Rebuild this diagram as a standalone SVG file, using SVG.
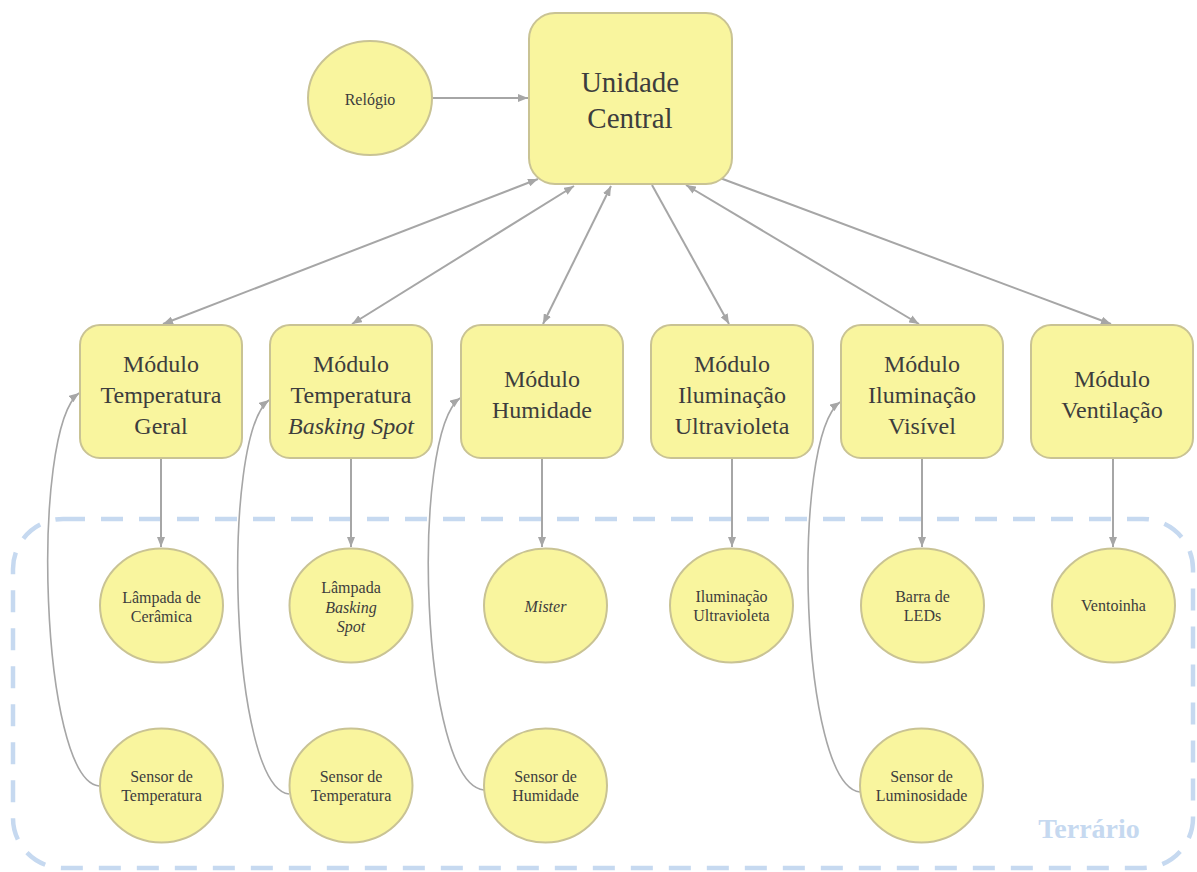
<svg xmlns="http://www.w3.org/2000/svg" width="1197" height="872" viewBox="0 0 1197 872">
<style>
.box{fill:#f9f59e;stroke:#c9c394;stroke-width:2}
.t{fill:#3d3d3d;text-anchor:middle}
.big{font-size:29px}
.mid{font-size:24px}
.sm{font-size:16px}
.it{font-style:italic}
.ln{fill:none;stroke:#a6a6a6;stroke-width:2}
.cv{fill:none;stroke:#a6a6a6;stroke-width:1.6}
</style>
<defs>
<marker id="ah" viewBox="0 0 10 8" refX="10" refY="4" markerWidth="10" markerHeight="8" markerUnits="userSpaceOnUse" orient="auto-start-reverse">
<path d="M0,0 L10,4 L0,8 z" fill="#a6a6a6"/>
</marker>
</defs>
<rect x="13" y="519" width="1180" height="349" rx="50" fill="none" stroke="#c6d9f0" stroke-width="4.5" stroke-dasharray="22 16"/>
<text x="1089" y="838" font-family="Liberation Serif, serif" font-size="28" font-weight="bold" fill="#c6d9f0" text-anchor="middle">Terrário</text>

<g id="connectors">
<line class="ln" x1="433" y1="98" x2="528" y2="98" marker-end="url(#ah)"/>
<line class="ln" x1="538" y1="179" x2="163" y2="324" marker-start="url(#ah)" marker-end="url(#ah)"/>
<line class="ln" x1="574" y1="186" x2="352" y2="324" marker-start="url(#ah)" marker-end="url(#ah)"/>
<line class="ln" x1="611" y1="186" x2="543" y2="324" marker-start="url(#ah)" marker-end="url(#ah)"/>
<line class="ln" x1="652" y1="185" x2="729" y2="324" marker-end="url(#ah)"/>
<line class="ln" x1="686" y1="185" x2="919" y2="324" marker-start="url(#ah)" marker-end="url(#ah)"/>
<line class="ln" x1="720" y1="178" x2="1111" y2="324" marker-end="url(#ah)"/>
<line class="ln" x1="161" y1="458" x2="161" y2="547" marker-end="url(#ah)"/>
<line class="ln" x1="351" y1="458" x2="351" y2="547" marker-end="url(#ah)"/>
<line class="ln" x1="542" y1="458" x2="542" y2="547" marker-end="url(#ah)"/>
<line class="ln" x1="732" y1="458" x2="732" y2="547" marker-end="url(#ah)"/>
<line class="ln" x1="922" y1="458" x2="922" y2="547" marker-end="url(#ah)"/>
<line class="ln" x1="1113" y1="458" x2="1113" y2="547" marker-end="url(#ah)"/>
<path class="cv" d="M99 786 C40 780 30 430 79 393" marker-end="url(#ah)"/>
<path class="cv" d="M289 794 C230 788 220 437 269 400" marker-end="url(#ah)"/>
<path class="cv" d="M484 790 C420 784 410 435 460 398" marker-end="url(#ah)"/>
<path class="cv" d="M860 792 C800 786 790 439 840 402" marker-end="url(#ah)"/>
</g>

<g font-family="Liberation Serif, serif">
<g id="relogio"><ellipse class="box" cx="370" cy="98" rx="62" ry="57"/><text class="t sm" x="370" y="105">Relógio</text></g>
<g id="unidade-central"><rect class="box" x="529" y="13" width="203" height="171" rx="26"/><text class="t big" x="630" y="92">Unidade</text><text class="t big" x="630" y="128">Central</text></g>

<g id="mod-temp-geral"><rect class="box" x="80" y="325" width="162" height="133" rx="20"/><text class="t mid" x="161" y="372">Módulo</text><text class="t mid" x="161" y="403">Temperatura</text><text class="t mid" x="161" y="434">Geral</text></g>
<g id="mod-temp-basking"><rect class="box" x="270" y="325" width="162" height="133" rx="20"/><text class="t mid" x="351" y="372">Módulo</text><text class="t mid" x="351" y="403">Temperatura</text><text class="t mid it" x="351" y="434">Basking Spot</text></g>
<g id="mod-humidade"><rect class="box" x="461" y="325" width="162" height="133" rx="20"/><text class="t mid" x="542" y="387">Módulo</text><text class="t mid" x="542" y="418">Humidade</text></g>
<g id="mod-uv"><rect class="box" x="651" y="325" width="162" height="133" rx="20"/><text class="t mid" x="732" y="372">Módulo</text><text class="t mid" x="732" y="403">Iluminação</text><text class="t mid" x="732" y="434">Ultravioleta</text></g>
<g id="mod-visivel"><rect class="box" x="841" y="325" width="162" height="133" rx="20"/><text class="t mid" x="922" y="372">Módulo</text><text class="t mid" x="922" y="403">Iluminação</text><text class="t mid" x="922" y="434">Visível</text></g>
<g id="mod-ventilacao"><rect class="box" x="1031" y="325" width="162" height="133" rx="20"/><text class="t mid" x="1112" y="387">Módulo</text><text class="t mid" x="1112" y="418">Ventilação</text></g>

<g id="lampada-ceramica"><ellipse class="box" cx="161.5" cy="605.5" rx="61.5" ry="57"/><text class="t sm" x="161.5" y="603">Lâmpada de</text><text class="t sm" x="161.5" y="622">Cerâmica</text></g>
<g id="lampada-basking"><ellipse class="box" cx="351" cy="605.5" rx="61.5" ry="57"/><text class="t sm" x="351" y="593">Lâmpada</text><text class="t sm it" x="351" y="613">Basking</text><text class="t sm it" x="351" y="632">Spot</text></g>
<g id="mister"><ellipse class="box" cx="545.5" cy="605.5" rx="61.5" ry="57"/><text class="t sm it" x="545.5" y="612">Mister</text></g>
<g id="iluminacao-uv"><ellipse class="box" cx="731.5" cy="605.5" rx="61.5" ry="57"/><text class="t sm" x="731.5" y="602">Iluminação</text><text class="t sm" x="731.5" y="621">Ultravioleta</text></g>
<g id="barra-leds"><ellipse class="box" cx="922.5" cy="605.5" rx="61.5" ry="57"/><text class="t sm" x="922.5" y="602">Barra de</text><text class="t sm" x="922.5" y="621">LEDs</text></g>
<g id="ventoinha"><ellipse class="box" cx="1113.5" cy="605.5" rx="61.5" ry="57"/><text class="t sm" x="1113.5" y="611">Ventoinha</text></g>

<g id="sensor-temp-1"><ellipse class="box" cx="161.5" cy="785.5" rx="61.5" ry="57"/><text class="t sm" x="161.5" y="782">Sensor de</text><text class="t sm" x="161.5" y="801">Temperatura</text></g>
<g id="sensor-temp-2"><ellipse class="box" cx="351" cy="785.5" rx="61.5" ry="57"/><text class="t sm" x="351" y="782">Sensor de</text><text class="t sm" x="351" y="801">Temperatura</text></g>
<g id="sensor-humidade"><ellipse class="box" cx="545.5" cy="785.5" rx="61.5" ry="57"/><text class="t sm" x="545.5" y="782">Sensor de</text><text class="t sm" x="545.5" y="801">Humidade</text></g>
<g id="sensor-luminosidade"><ellipse class="box" cx="921.5" cy="785.5" rx="61.5" ry="57"/><text class="t sm" x="921.5" y="782">Sensor de</text><text class="t sm" x="921.5" y="801">Luminosidade</text></g>
</g>
</svg>
